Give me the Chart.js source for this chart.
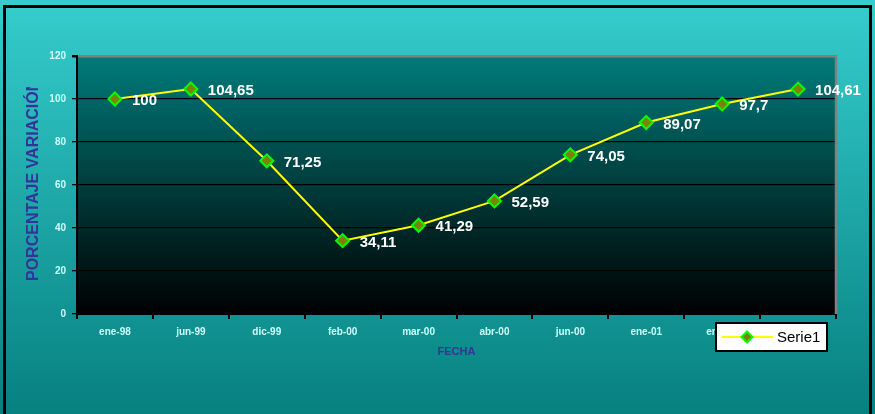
<!DOCTYPE html>
<html>
<head>
<meta charset="utf-8">
<title>Porcentaje variación</title>
<script src="https://cdn.jsdelivr.net/npm/chart.js@4/dist/chart.umd.min.js"></script>
<style>
  html, body { margin: 0; padding: 0; background: #fff; }
  canvas { display: block; }
</style>
</head>
<body>
<canvas id="grafico" width="875" height="414"></canvas>
<script>
// Datos de la serie
const fechas = ['ene-98', 'jun-99', 'dic-99', 'feb-00', 'mar-00', 'abr-00', 'jun-00', 'ene-01', 'ene-02', 'jun-02'];
const serie1 = [100, 104.65, 71.25, 34.11, 41.29, 52.59, 74.05, 89.07, 97.7, 104.61];
const ticksY = [0, 20, 40, 60, 80, 100, 120];

const FUENTE = '"Liberation Sans", Arial, sans-serif';

// Fondo degradado del gráfico y del área de trazado, con el marco negro
const fondo = {
    id: 'fondo',
    beforeDraw(chart) {
        const ctx = chart.ctx;
        const a = chart.chartArea;
        ctx.save();
        let g = ctx.createLinearGradient(0, 0, 0, chart.height);
        g.addColorStop(0, '#35cdcd');
        g.addColorStop(1, '#078080');
        ctx.fillStyle = g;
        ctx.fillRect(0, 0, chart.width, chart.height);

        g = ctx.createLinearGradient(0, a.top, 0, a.bottom);
        g.addColorStop(0, '#007b7b');
        g.addColorStop(0.5, '#003c3c');
        g.addColorStop(1, '#000000');
        ctx.fillStyle = g;
        ctx.fillRect(a.left, a.top, a.right - a.left, a.bottom - a.top);

        ctx.strokeStyle = '#000';
        ctx.lineWidth = 3;
        ctx.strokeRect(4.5, 6.5, 866, 430);
        ctx.restore();
    },
    beforeDatasetsDraw(chart) {
        // borde gris derecho del área de trazado
        const ctx = chart.ctx;
        const a = chart.chartArea;
        ctx.save();
        ctx.strokeStyle = '#808080';
        ctx.lineWidth = 2.5;
        ctx.beginPath();
        ctx.moveTo(a.right, a.top - 1);
        ctx.lineTo(a.right, a.bottom);
        ctx.stroke();
        ctx.restore();
    }
};

// Etiquetas con el valor de cada punto
const etiquetas = {
    id: 'etiquetas',
    afterDatasetsDraw(chart) {
        const ctx = chart.ctx;
        const meta = chart.getDatasetMeta(0);
        ctx.save();
        ctx.font = 'bold 15px ' + FUENTE;
        ctx.fillStyle = '#ffffff';
        ctx.textAlign = 'left';
        ctx.textBaseline = 'middle';
        meta.data.forEach((p, i) => {
            const txt = String(serie1[i]).replace('.', ',');
            ctx.fillText(txt, p.x + 17, p.y + 2);
        });
        ctx.restore();
    }
};

// Título vertical (recortado arriba) y leyenda sobre el eje
const extras = {
    id: 'extras',
    afterDraw(chart) {
        const ctx = chart.ctx;
        ctx.save();
        ctx.beginPath();
        ctx.rect(0, 87, 70, 300);
        ctx.clip();
        ctx.translate(38, 281);
        ctx.rotate(-Math.PI / 2);
        ctx.font = 'bold 16px ' + FUENTE;
        ctx.fillStyle = '#333399';
        ctx.textAlign = 'left';
        ctx.textBaseline = 'alphabetic';
        ctx.fillText('PORCENTAJE VARIACIÓN', 0, 0);
        ctx.restore();

        // leyenda
        const x = 716, y = 323, w = 111, h = 28;
        ctx.save();
        ctx.fillStyle = '#ffffff';
        ctx.fillRect(x, y, w, h);
        ctx.strokeStyle = '#000';
        ctx.lineWidth = 2;
        ctx.strokeRect(x, y, w, h);
        ctx.strokeStyle = '#ffff00';
        ctx.lineWidth = 2;
        ctx.beginPath();
        ctx.moveTo(x + 6, y + 14);
        ctx.lineTo(x + 57, y + 14);
        ctx.stroke();
        const mx = x + 31, my = y + 14, r = 5.5;
        ctx.beginPath();
        ctx.moveTo(mx, my - r);
        ctx.lineTo(mx + r, my);
        ctx.lineTo(mx, my + r);
        ctx.lineTo(mx - r, my);
        ctx.closePath();
        ctx.fillStyle = '#808000';
        ctx.fill();
        ctx.strokeStyle = '#00ff00';
        ctx.stroke();
        ctx.fillStyle = '#000';
        ctx.font = '15px ' + FUENTE;
        ctx.textBaseline = 'middle';
        ctx.fillText('Serie1', x + 61, y + 15);
        ctx.restore();
    }
};

new Chart(document.getElementById('grafico'), {
    type: 'line',
    data: {
        labels: fechas,
        datasets: [{
            label: 'Serie1',
            data: serie1,
            borderColor: '#ffff00',
            borderWidth: 2,
            tension: 0,
            pointStyle: 'rectRot',
            pointRadius: 6.5,
            pointBackgroundColor: '#808000',
            pointBorderColor: '#00ff00',
            pointBorderWidth: 2
        }]
    },
    options: {
        responsive: false,
        animation: false,
        devicePixelRatio: 1,
        layout: { padding: { top: 56, left: 0, right: 39, bottom: 55 } },
        plugins: {
            legend: { display: false },
            tooltip: { enabled: false }
        },
        scales: {
            x: {
                offset: true,
                afterFit(scale) { scale.height = 45; },
                grid: {
                    offset: true,
                    drawOnChartArea: false,
                    drawTicks: true,
                    tickLength: 5,
                    color: '#000',
                    lineWidth: 2
                },
                border: { color: '#000', width: 2 },
                ticks: {
                    autoSkip: false,
                    maxRotation: 0,
                    padding: 7,
                    color: '#ccffff',
                    font: { family: FUENTE, size: 10, weight: 'bold' }
                },
                title: {
                    display: true,
                    text: 'FECHA',
                    color: '#333399',
                    padding: { top: 6, bottom: 0 },
                    font: { family: FUENTE, size: 11, weight: 'bold' }
                }
            },
            y: {
                min: 0,
                max: 120,
                afterFit(scale) { scale.width = 77; },
                afterBuildTicks(scale) { scale.ticks = ticksY.map(v => ({ value: v })); },
                grid: {
                    color: ctx => ctx.tick && ctx.tick.value === 120 ? '#808080' : '#000',
                    lineWidth: ctx => ctx.tick && ctx.tick.value === 120 ? 2.5 : 1.3,
                    tickColor: '#000',
                    tickLength: 5,
                    drawTicks: true
                },
                border: { color: '#000', width: 2 },
                ticks: {
                    padding: 6,
                    color: '#ccffff',
                    font: { family: FUENTE, size: 10, weight: 'bold' }
                }
            }
        }
    },
    plugins: [fondo, etiquetas, extras]
});
</script>
</body>
</html>
